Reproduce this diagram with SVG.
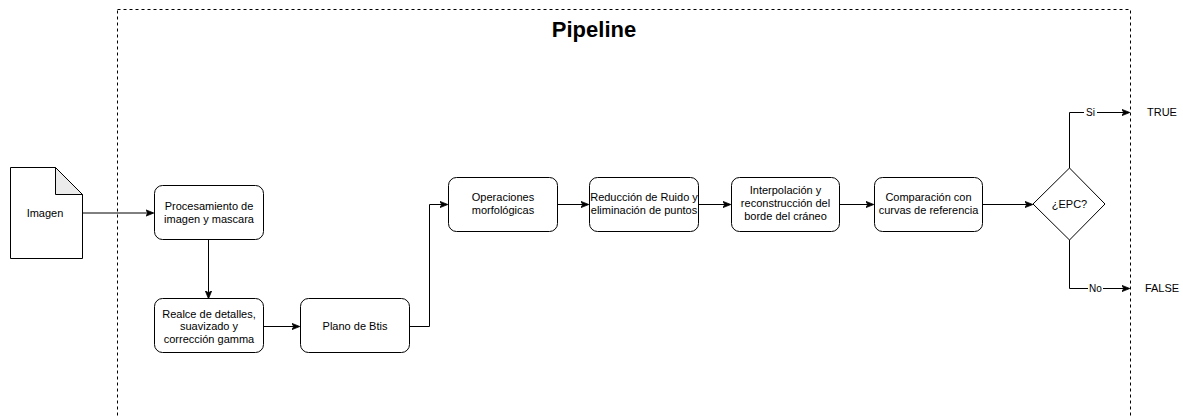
<svg xmlns="http://www.w3.org/2000/svg" width="1183" height="416" viewBox="0 0 1183 416">
<defs>
<style>
.n{fill:#fff;stroke:#000;stroke-width:1}
.t{font-family:"Liberation Sans",Arial,sans-serif;font-size:11px;fill:#000;text-anchor:middle}
.e{fill:none;stroke:#000;stroke-width:1}
.lb{font-family:"Liberation Sans",Arial,sans-serif;font-size:10px;fill:#000;text-anchor:middle}
</style>
<marker id="a" viewBox="0 0 10 10" refX="9" refY="5" markerWidth="8" markerHeight="8" markerUnits="userSpaceOnUse" orient="auto">
<path d="M0,1 L10,5 L0,9 L2.5,5 Z" fill="#000" stroke="#000" stroke-width="1"/>
</marker>
</defs>
<rect width="1183" height="416" fill="#fff"/>
<g id="pipeline">
<rect x="117.5" y="9.5" width="1013" height="420" fill="none" stroke="#000" stroke-width="1" stroke-dasharray="3 3"/>
<text x="594" y="37" font-family="'Liberation Sans',Arial,sans-serif" font-size="22" font-weight="bold" text-anchor="middle" fill="#000">Pipeline</text>
</g>
<g id="connectors">
<path class="e" d="M82,213 H153" marker-end="url(#a)"/>
<path class="e" d="M208.5,240 V298" marker-end="url(#a)"/>
<path class="e" d="M263,326.5 H299" marker-end="url(#a)"/>
<path class="e" d="M409,326.5 H429.5 V204.5 H447" marker-end="url(#a)"/>
<path class="e" d="M557,204.5 H588" marker-end="url(#a)"/>
<path class="e" d="M698,204.5 H730" marker-end="url(#a)"/>
<path class="e" d="M839,204.5 H873" marker-end="url(#a)"/>
<path class="e" d="M983,204.5 H1032" marker-end="url(#a)"/>
<path class="e" d="M1069.5,168 V112.5 H1129" marker-end="url(#a)"/>
<path class="e" d="M1069.5,240 V288.5 H1129" marker-end="url(#a)"/>
<rect x="1084" y="106" width="13" height="12" fill="#fff"/>
<text class="lb" x="1090.5" y="116">Si</text>
<rect x="1088" y="283" width="15" height="12" fill="#fff"/>
<text class="lb" x="1095.5" y="292">No</text>
</g>
<g id="imagen">
<path class="n" d="M10.5,167.5 H55.5 L82.5,194.5 V258.5 H10.5 Z"/>
<path d="M55.5,167.5 L82.5,194.5 H55.5 Z" fill="#ebebeb" stroke="#000" stroke-width="1"/>
<text class="t" x="45" y="217">Imagen</text>
</g>
<g id="procesamiento">
<rect class="n" x="154.5" y="185.5" width="109" height="54" rx="8"/>
<text class="t" x="209" y="210">Procesamiento de</text>
<text class="t" x="209" y="223">imagen y mascara</text>
</g>
<g id="realce">
<rect class="n" x="154.5" y="298.5" width="109" height="54" rx="8"/>
<text class="t" x="209" y="318">Realce de detalles,</text>
<text class="t" x="209" y="330">suavizado y</text>
<text class="t" x="209" y="343">corrección gamma</text>
</g>
<g id="plano">
<rect class="n" x="300.5" y="298.5" width="109" height="54" rx="8"/>
<text class="t" x="355" y="330">Plano de Btis</text>
</g>
<g id="operaciones">
<rect class="n" x="448.5" y="177.5" width="109" height="54" rx="8"/>
<text class="t" x="503" y="201">Operaciones</text>
<text class="t" x="503" y="214">morfológicas</text>
</g>
<g id="reduccion">
<rect class="n" x="589.5" y="177.5" width="109" height="54" rx="8"/>
<text class="t" x="644" y="201">Reducción de Ruido y</text>
<text class="t" x="644" y="214">eliminación de puntos</text>
</g>
<g id="interpolacion">
<rect class="n" x="731.5" y="177.5" width="108" height="54" rx="8"/>
<text class="t" x="785.5" y="194">Interpolación y</text>
<text class="t" x="785.5" y="207">reconstrucción del</text>
<text class="t" x="785.5" y="220">borde del cráneo</text>
</g>
<g id="comparacion">
<rect class="n" x="874.5" y="177.5" width="108" height="54" rx="8"/>
<text class="t" x="928.5" y="201">Comparación con</text>
<text class="t" x="928.5" y="214">curvas de referencia</text>
</g>
<g id="epc">
<path class="n" d="M1069.5,168 L1105,204 L1069.5,240 L1033,204 Z"/>
<text class="t" x="1069.5" y="208">¿EPC?</text>
</g>
<g id="true">
<text class="t" x="1162" y="116">TRUE</text>
</g>
<g id="false">
<text class="t" x="1162" y="292">FALSE</text>
</g>
</svg>
